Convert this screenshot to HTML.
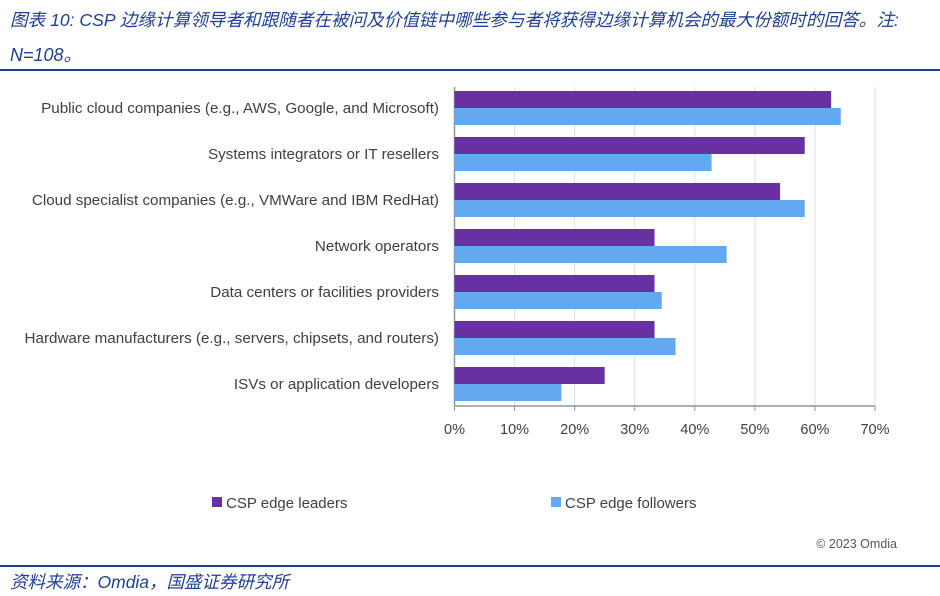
<!DOCTYPE html>
<html><head><meta charset="utf-8"><style>
body{margin:0;background:#fff;}
#wrap{position:relative;width:940px;height:596px;overflow:hidden;background:#fff;}
.title{position:absolute;left:10px;font-family:"Liberation Sans","Noto Sans CJK SC",sans-serif;font-style:italic;font-size:18px;color:#1f3f94;white-space:nowrap;}
.rule{position:absolute;left:0;width:940px;height:2px;background:#1f3f94;}
svg text{font-family:"Liberation Sans","DejaVu Sans",sans-serif;}
</style></head><body>
<div id="wrap">
<div class="title" style="top:7px;font-size:17.6px">图表 10: CSP 边缘计算领导者和跟随者在被问及价值链中哪些参与者将获得边缘计算机会的最大份额时的回答。注:</div>
<div class="title" style="top:41px">N=108。</div>
<div class="rule" style="top:69px"></div>
<svg id="chart" width="940" height="596" style="position:absolute;left:0;top:0"></svg>
<div class="rule" style="top:565px"></div>
<div class="title" style="top:569px;font-size:17.5px">资料来源：Omdia，国盛证券研究所</div>
</div>
<script>
const categories=["Public cloud companies (e.g., AWS, Google, and Microsoft)","Systems integrators or IT resellers","Cloud specialist companies (e.g., VMWare and IBM RedHat)","Network operators","Data centers or facilities providers","Hardware manufacturers (e.g., servers, chipsets, and routers)","ISVs or application developers"];
const leaders=[62.7,58.3,54.2,33.3,33.3,33.3,25.0];
const followers=[64.3,42.8,58.3,45.3,34.5,36.8,17.8];
const ticks=[0,10,20,30,40,50,60,70];
const tickLabels=["0%","10%","20%","30%","40%","50%","60%","70%"];
const seriesNames=["CSP edge leaders","CSP edge followers"];
const colors=["#6930a3","#63a9f1"];
const svg=document.getElementById('chart');
const NS="http://www.w3.org/2000/svg";
const x0=454.5,x1=875,yTop=87,groupH=46,barH=17;
const xs=v=>x0+(v/70)*(x1-x0);
const yg=i=>yTop+i*groupH;
function mk(t,a){const e=document.createElementNS(NS,t);for(const k in a)e.setAttribute(k,a[k]);svg.appendChild(e);return e;}
ticks.forEach((t,i)=>{
 const g=mk('line',{x1:xs(t),x2:xs(t),y1:yTop,y2:406,stroke:i?'#dde0e6':'#8a93a6','stroke-width':i?1:1.5});
 
 
 const tk=mk('line',{x1:xs(t),x2:xs(t),y1:406,y2:411,stroke:'#8a93a6'});
 
 
 const tl=mk('text',{x:xs(t),y:434,'text-anchor':'middle','font-size':14.5,fill:'#404040'});
 tl.textContent=tickLabels[i];
 
 
});
const ax=mk('line',{x1:x0,x2:x1,y1:406,y2:406,stroke:'#8a93a6','stroke-width':1.5});


categories.forEach((c,i)=>{
 const y=yg(i)+4;
 const b1=mk('rect',{x:x0,y:y,width:xs(leaders[i])-x0,height:barH,fill:colors[0]});
 
 
 const b2=mk('rect',{x:x0,y:y+barH,width:xs(followers[i])-x0,height:barH,fill:colors[1]});
 
 
 const l=mk('text',{x:439,y:y+barH+5,'text-anchor':'end','font-size':15.2,fill:'#404040'});
 l.textContent=c;
 
 
});
[[212,0],[551,1]].forEach(([lx,k])=>{
 const s=mk('rect',{x:lx,y:497,width:10,height:10,fill:colors[k]});
 
 
 const t=mk('text',{x:lx+14,y:508,'font-size':15,fill:'#404040'});
 t.textContent=seriesNames[k];
 
 
});
const cp=mk('text',{x:897,y:548,'text-anchor':'end','font-size':12.5,fill:'#555'});
cp.textContent="© 2023 Omdia";


</script>
</body></html>
